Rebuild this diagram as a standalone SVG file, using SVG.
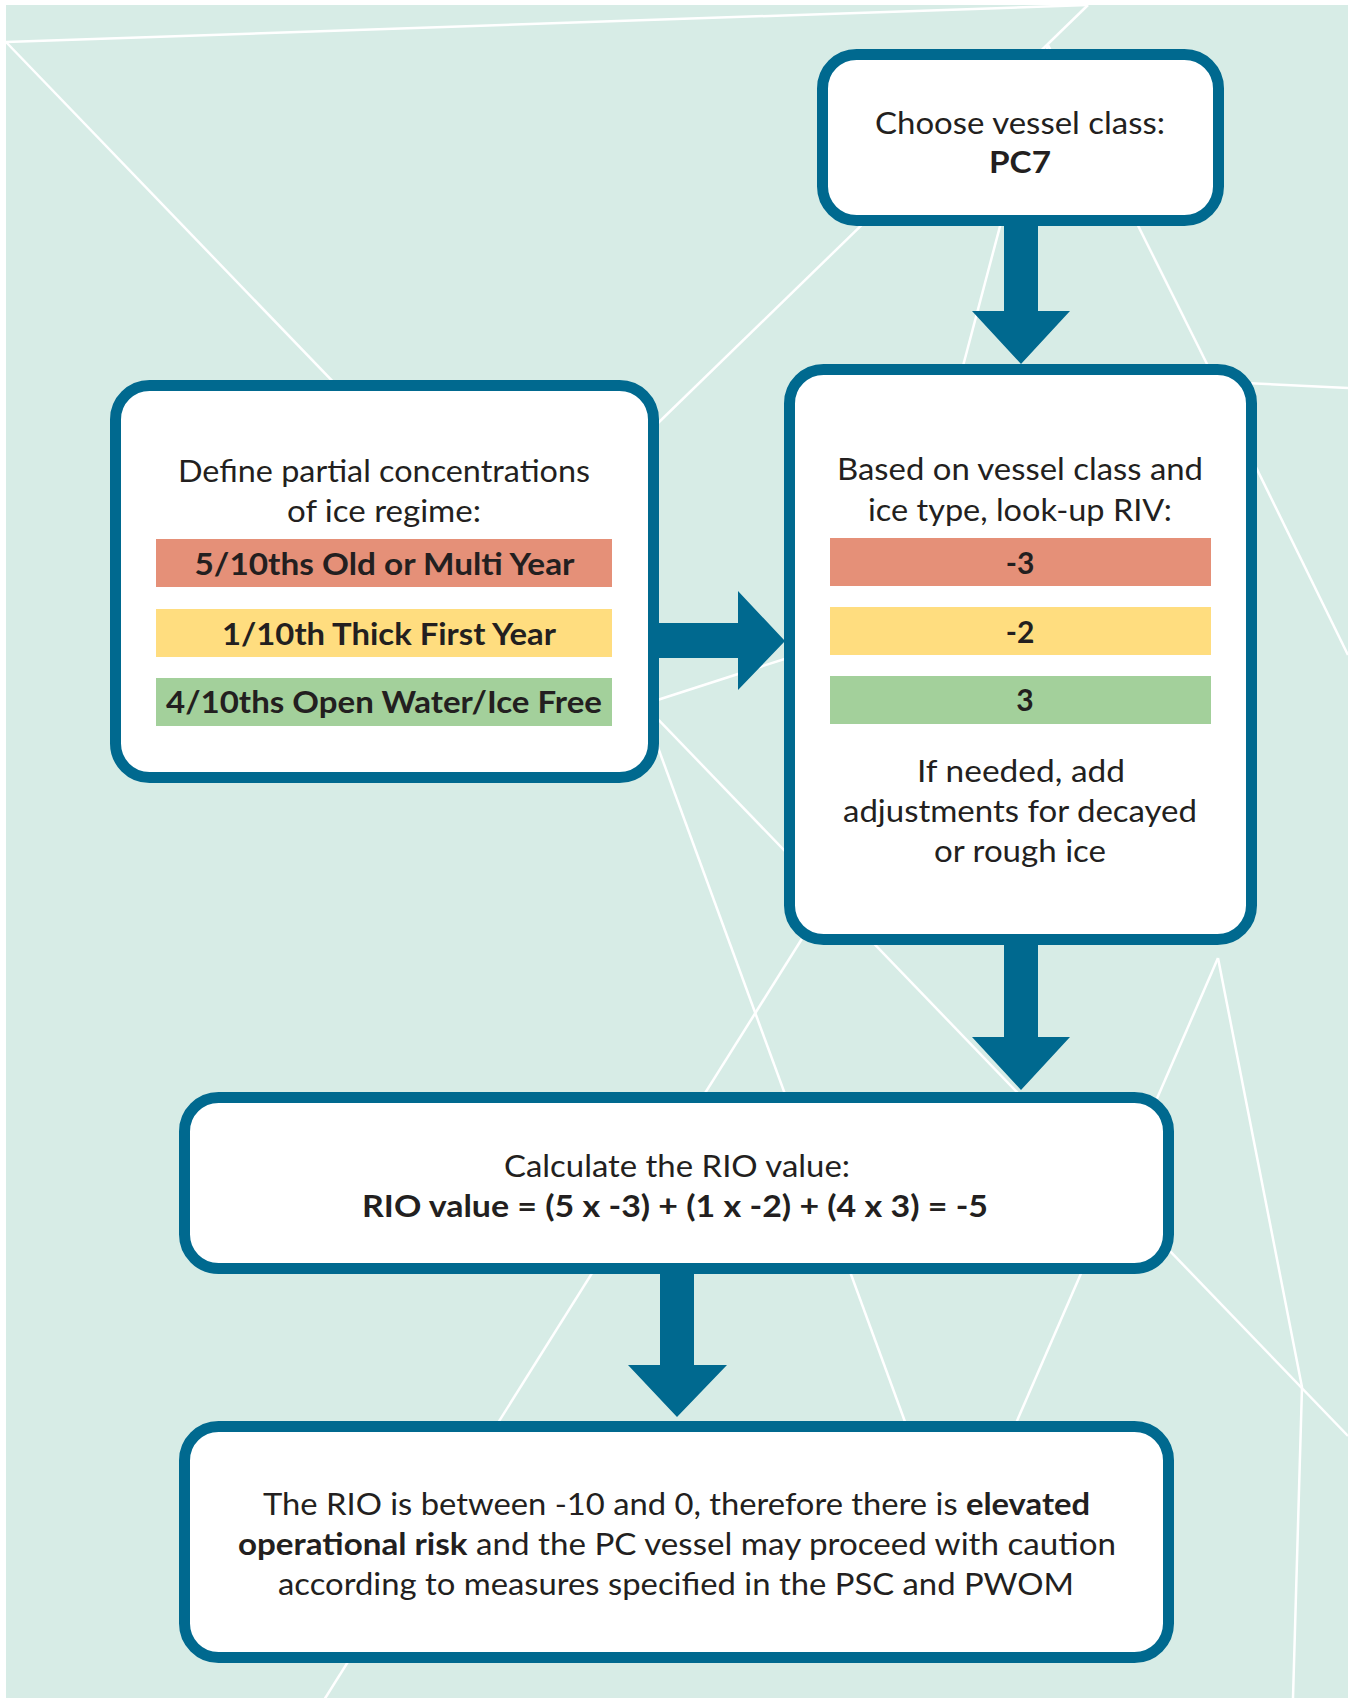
<svg xmlns="http://www.w3.org/2000/svg" width="1348" height="1698" viewBox="0 0 1348 1698">
<style>
.bg{fill:#d7ece6}
.ice{stroke:#ffffff;stroke-width:2.5;fill:none}
.box{fill:#ffffff;stroke:#00698f;stroke-width:11}
.t{font-family:Lato,"Noto Sans","Liberation Sans",sans-serif;font-size:30px;fill:#231f20;text-anchor:middle}
.b{font-weight:bold}
.arrow{fill:#00698f}
.red{fill:#e59078}
.yel{fill:#ffdd7f}
.grn{fill:#a3d09b}
</style>
<rect x="0" y="0" width="1348" height="1698" fill="#ffffff"/>
<rect class="bg" x="6" y="5" width="1342" height="1693"/>
<g id="ice-lines" class="ice">
<line x1="6" y1="42" x2="1088" y2="5"/>
<line x1="1088" y1="5" x2="620" y2="460"/>
<line x1="6" y1="42" x2="1348" y2="1436"/>
<line x1="1048" y1="45" x2="954" y2="400"/>
<line x1="1048" y1="45" x2="1215" y2="380"/>
<line x1="1245" y1="383" x2="1348" y2="388"/>
<line x1="1250" y1="455" x2="1348" y2="655"/>
<line x1="645" y1="712" x2="930" y2="1490"/>
<line x1="820" y1="910" x2="324" y2="1700"/>
<line x1="1218" y1="958" x2="1000" y2="1460"/>
<polyline points="1218,958 1302,1387 1293,1698"/>
<line x1="645" y1="704" x2="800" y2="654"/>
</g>
<g id="node-vessel-class">
<rect class="box" x="822.5" y="54.5" width="396" height="166" rx="34"/>
<text class="t" x="1020" y="134" textLength="290" lengthAdjust="spacingAndGlyphs">Choose vessel class:</text>
<text class="t b" x="1020" y="173" textLength="62" lengthAdjust="spacingAndGlyphs">PC7</text>
</g>
<g id="node-concentrations">
<rect class="box" x="115.5" y="385.5" width="538" height="392" rx="34"/>
<text class="t" x="384" y="482" textLength="412" lengthAdjust="spacingAndGlyphs">Define partial concentrations</text>
<text class="t" x="384" y="522" textLength="194" lengthAdjust="spacingAndGlyphs">of ice regime:</text>
<rect class="red" x="156" y="539" width="456" height="48"/>
<rect class="yel" x="156" y="609" width="456" height="48"/>
<rect class="grn" x="156" y="678" width="456" height="48"/>
<text class="t b" x="384.5" y="575" textLength="380" lengthAdjust="spacingAndGlyphs">5/10ths Old or Multi Year</text>
<text class="t b" x="389" y="645" textLength="334" lengthAdjust="spacingAndGlyphs">1/10th Thick First Year</text>
<text class="t b" x="384" y="713" textLength="436" lengthAdjust="spacingAndGlyphs">4/10ths Open Water/Ice Free</text>
</g>
<g id="node-riv">
<rect class="box" x="789.5" y="369.5" width="462" height="570" rx="34"/>
<text class="t" x="1020" y="480" textLength="366" lengthAdjust="spacingAndGlyphs">Based on vessel class and</text>
<text class="t" x="1020" y="521" textLength="304" lengthAdjust="spacingAndGlyphs">ice type, look-up RIV:</text>
<rect class="red" x="830" y="538" width="381" height="48"/>
<rect class="yel" x="830" y="607" width="381" height="48"/>
<rect class="grn" x="830" y="676" width="381" height="48"/>
<text class="t b" x="1020" y="574">-3</text>
<text class="t b" x="1020" y="643">-2</text>
<text class="t b" x="1025" y="711">3</text>
<text class="t" x="1021" y="782" textLength="208" lengthAdjust="spacingAndGlyphs">If needed, add</text>
<text class="t" x="1020" y="822" textLength="354" lengthAdjust="spacingAndGlyphs">adjustments for decayed</text>
<text class="t" x="1020" y="862" textLength="172" lengthAdjust="spacingAndGlyphs">or rough ice</text>
</g>
<g id="node-calculate">
<rect class="box" x="184.5" y="1097.5" width="984" height="171" rx="34"/>
<text class="t" x="677" y="1177" textLength="346" lengthAdjust="spacingAndGlyphs">Calculate the RIO value:</text>
<text class="t b" x="675" y="1217" textLength="626" lengthAdjust="spacingAndGlyphs">RIO value = (5 x -3) + (1 x -2) + (4 x 3) = -5</text>
</g>
<g id="node-result">
<rect class="box" x="184.5" y="1426.5" width="984" height="231" rx="34"/>
<text class="t" x="676.5" y="1515" textLength="827" lengthAdjust="spacingAndGlyphs">The RIO is between -10 and 0, therefore there is <tspan class="b">elevated</tspan></text>
<text class="t" x="677" y="1555" textLength="878" lengthAdjust="spacingAndGlyphs"><tspan class="b">operational risk</tspan> and the PC vessel may proceed with caution</text>
<text class="t" x="676" y="1595" textLength="796" lengthAdjust="spacingAndGlyphs">according to measures specified in the PSC and PWOM</text>
</g>
<g id="connectors">
<polygon class="arrow" points="1004,222 1038,222 1038,311 1070,311 1021,364 972,311 1004,311"/>
<polygon class="arrow" points="655,623 738,623 738,591 785,641 738,690 738,658 655,658"/>
<polygon class="arrow" points="1004,941 1038,941 1038,1037 1070,1037 1021,1090 972,1037 1004,1037"/>
<polygon class="arrow" points="660,1270 694,1270 694,1365 727,1365 677,1417 628,1365 660,1365"/>
</g>
</svg>
